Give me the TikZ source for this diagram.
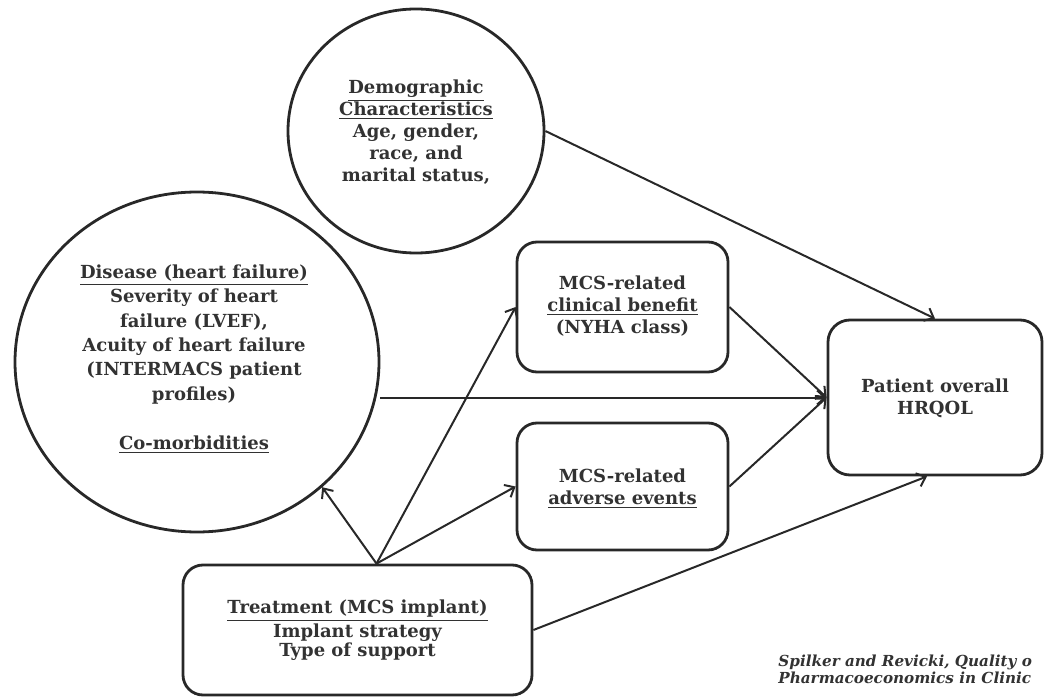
\documentclass[tikz,border=0pt]{standalone}
\usepackage{fontspec}
\setmainfont{DejaVu Serif}
\usetikzlibrary{shapes.geometric,arrows.meta,calc}
\definecolor{ink}{RGB}{40,40,40}
\definecolor{txt}{RGB}{50,50,50}
\begin{document}
\begin{tikzpicture}[x=0.5pt,y=-0.5pt,
  ink/.style={draw=ink,line width=1.4pt},
  oval/.style={ink,ellipse,inner sep=0pt},
  rbox/.style={ink,rectangle,rounded corners=10pt,inner sep=0pt},
  lbl/.style={text=txt,align=center,font=\bfseries\fontsize{9}{11}\selectfont,inner sep=0pt},
  conn/.style={draw=ink,line width=1pt,-{Straight Barb[length=4pt,width=7pt,line width=1pt]}}]
\useasboundingbox (0,0) rectangle (1044,700);
% shapes
\node[oval,minimum width=128pt,minimum height=122pt] (demo) at (416,131) {};
\node[oval,minimum width=182pt,minimum height=170pt] (dis) at (197,362) {};
\node[rbox,minimum width=105.5pt,minimum height=65pt] (clin) at (622.5,307) {};
\node[rbox,minimum width=105.5pt,minimum height=63.5pt] (adv) at (622.5,486.5) {};
\node[rbox,rounded corners=11pt,minimum width=107pt,minimum height=77.5pt] (pat) at (935,397.5) {};
\node[rbox,minimum width=174.5pt,minimum height=65pt] (tr) at (357.5,630) {};
% texts
\node[lbl] (demot) at (416,132) {\underline{Demographic}\\\underline{Characteristics}\\Age, gender,\\race, and\\marital status,};
\node[lbl,font=\bfseries\fontsize{9}{12.2}\selectfont] (dist) at (194,359) {\underline{Disease (heart failure)}\\Severity of heart\\failure (LVEF),\\Acuity of heart failure\\(INTERMACS patient\\profiles)\\[12.2pt]\underline{Co-morbidities}};
\node[lbl] (clint) at (622.5,306) {MCS-related\\\underline{clinical benefit}\\(NYHA class)};
\node[lbl] (advt) at (622.5,489) {MCS-related\\\underline{adverse events}};
\node[lbl] (patt) at (935,398) {Patient overall\\HRQOL};
\node[lbl,font=\bfseries\fontsize{9}{9.5}\selectfont] (trt) at (357.5,630) {\underline{Treatment (MCS implant)}\\Implant strategy\\Type of support};
\node[text=txt,align=left,anchor=north west,inner sep=0pt,font=\bfseries\itshape\fontsize{7.6}{7.4}\selectfont] (cite) at (778,655) {Spilker and Revicki, Quality o\\Pharmacoeconomics in Clinic};
% connectors
\coordinate (o) at ($(tr.north)+(19,0)$);
\coordinate (pb) at ($(pat.south)+(-8,0)$);
\draw[conn] (demo.east) -- (pat.north);
\draw[conn] (clin.east) -- (pat.west);
\draw[conn] (adv.east) -- (pat.west);
\draw[conn] (pat.west -| dis.east) -- (pat.west);
\draw[conn] (o) -- (dis.-45);
\draw[conn] (o) -- (clin.west);
\draw[conn] (o) -- (adv.west);
\draw[conn] (tr.east) -- (pb);
\end{tikzpicture}
\end{document}
